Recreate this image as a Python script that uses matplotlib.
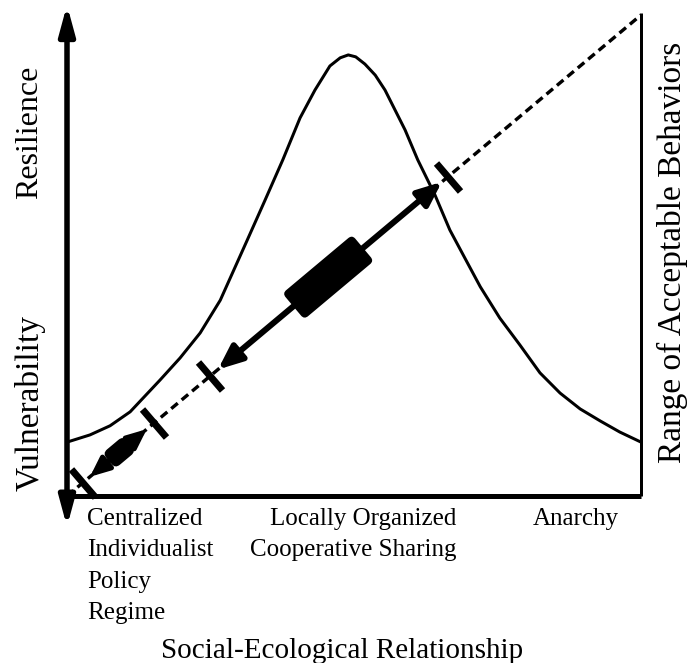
import numpy as np
import matplotlib
matplotlib.use("Agg")
import matplotlib.pyplot as plt
from matplotlib.patches import FancyArrowPatch, FancyBboxPatch
from matplotlib.markers import MarkerStyle
from matplotlib.transforms import Affine2D, ScaledTranslation

plt.rcParams['font.family'] = ['Liberation Serif', 'DejaVu Serif']

# ---- data (chart units: 0..100 on both axes) ----
curve_x = [0.0, 4.0, 7.5, 11.0, 13.6, 16.2, 19.7, 23.2, 26.7, 31.4, 34.5, 37.6,
           40.6, 43.2, 45.8, 47.6, 49.0, 50.3, 51.9, 53.7, 55.4, 58.9, 61.1,
           64.1, 66.7, 69.3, 72.0, 75.4, 78.9, 82.4, 85.9, 89.4, 92.9, 96.3, 100.0]
curve_y = [11.2, 12.7, 14.6, 17.5, 20.8, 24.1, 28.7, 33.9, 40.7, 53.2, 61.5, 69.9,
           78.6, 84.4, 89.4, 91.1, 91.7, 91.3, 89.8, 87.5, 84.4, 76.1, 69.9,
           62.6, 55.3, 49.5, 43.5, 37.0, 31.4, 25.6, 21.4, 18.1, 15.6, 13.3, 11.2]

diag_x = [0, 100]
diag_y = [0, 100]

tick_pos = [2.8, 15.2, 24.9, 66.4]           # bars across the dashed line
small_range = [4.0, 13.9]                    # centralized regime range
small_center = 9.1
large_range = [26.3, 65.3]                   # locally organized range
large_center = 45.5

left_labels = ["Resilience", "Vulnerability"]
right_label = "Range of Acceptable Behaviors"
x_categories = ["Centralized\nIndividualist\nPolicy\nRegime",
                "Locally Organized\nCooperative Sharing",
                "Anarchy"]
x_title = "Social-Ecological Relationship"

# ---- figure ----
W, H = 695, 663
fig = plt.figure(figsize=(W / 100, H / 100), dpi=100)
ax = fig.add_axes([67 / W, (H - 496) / H, 574 / W, 481 / H])
ax.set_xlim(0, 100)
ax.set_ylim(0, 100)
ax.axis('off')

PX = 0.72  # points per pixel at 100 dpi

# axes frame
ax.add_patch(FancyArrowPatch((0, -6.4), (0, 102.1),
                             arrowstyle=f"<|-|>,head_length={24*PX},head_width={6.5*PX}",
                             lw=5.5 * PX, color='black', shrinkA=0, shrinkB=0,
                             clip_on=False, mutation_scale=1))
ax.plot([0, 100], [0, 0], color='black', lw=5 * PX, solid_capstyle='butt', clip_on=False)
ax.plot([100, 100], [0, 100.4], color='black', lw=3 * PX, solid_capstyle='butt', clip_on=False)

# dashed diagonal
ax.plot(diag_x, diag_y, color='black', lw=3.4 * PX, linestyle=(0, (2.5, 1.5)),
        dash_capstyle='butt', clip_on=False)

# angle of the diagonal on screen
fig.canvas.draw()
p0 = ax.transData.transform((0, 0))
p1 = ax.transData.transform((100, 100))
ang = np.degrees(np.arctan2(p1[1] - p0[1], p1[0] - p0[0]))

# tick bars perpendicular to the diagonal
tick_marker = MarkerStyle('|', transform=Affine2D().rotate_deg(ang))
ax.plot(tick_pos, tick_pos, linestyle='none', marker=tick_marker,
        markersize=36 * PX, markeredgewidth=7 * PX, color='black', clip_on=False)

# range arrows
def range_arrow(a, b, lw, hl, hw):
    ax.add_patch(FancyArrowPatch((a, a), (b, b),
                                 arrowstyle=f"<|-|>,head_length={hl},head_width={hw}",
                                 lw=lw, color='black', shrinkA=0, shrinkB=0,
                                 mutation_scale=1, clip_on=False))

range_arrow(small_range[0], small_range[1], 5 * PX, 16 * PX, 7 * PX)
range_arrow(large_range[0], large_range[1], 6 * PX, 20 * PX, 8.5 * PX)

# rounded boxes on the ranges
def rbox(c, L, Wd, r):
    s = fig.dpi / 72.0
    tr = Affine2D().scale(s).rotate_deg(ang) + ScaledTranslation(c, c, ax.transData)
    ax.add_patch(FancyBboxPatch((-L / 2, -Wd / 2), L, Wd,
                                boxstyle=f"round,pad=0,rounding_size={r}",
                                transform=tr, fc='black', ec='none', clip_on=False))

rbox(small_center, 27 * PX, 20 * PX, 6 * PX)
rbox(large_center, 91 * PX, 34 * PX, 5 * PX)

# bell curve
ax.plot(curve_x, curve_y, color='black', lw=3 * PX, solid_joinstyle='round', clip_on=False)

# text
ax.text(-6.45, 75.6, left_labels[0], rotation=90, ha='center', va='center', fontsize=23)
ax.text(-6.45, 19.3, left_labels[1], rotation=90, ha='center', va='center', fontsize=24)
ax.text(105.4, 50.6, right_label, rotation=90, ha='center', va='center', fontsize=24)

fs = 18
ax.text(3.5, -2.4, x_categories[0], ha='left', va='top', fontsize=fs, linespacing=1.56)
ax.text(67.8, -2.4, x_categories[1], ha='right', va='top', fontsize=fs,
        multialignment='right', linespacing=1.56)
ax.text(88.6, -2.4, x_categories[2], ha='center', va='top', fontsize=fs)
ax.text(47.9, -33.7, x_title, ha='center', va='baseline', fontsize=21)

fig.savefig("out.png", dpi=100)
